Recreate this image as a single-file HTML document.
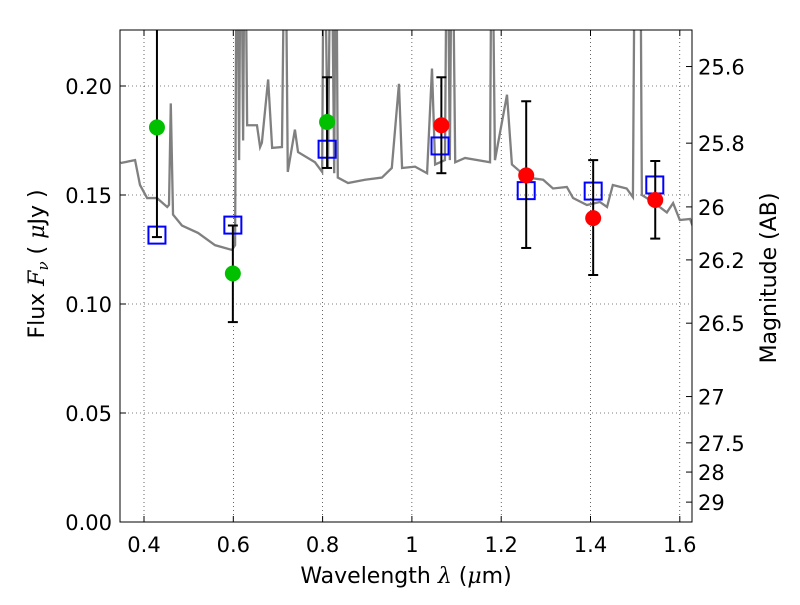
<!DOCTYPE html>
<html><head><meta charset="utf-8"><style>
body{margin:0;background:#fff;}
svg text{font-family:"DejaVu Sans","Liberation Sans",sans-serif;}
</style></head><body>
<svg id="c" width="800" height="600" xmlns="http://www.w3.org/2000/svg"></svg>
<script>
const specLam=[0.348,0.380,0.391,0.407,0.429,0.452,0.456,0.460,0.465,0.485,0.521,0.559,0.597,0.604,0.608,0.613,0.617,0.622,0.626,0.631,0.653,0.660,0.664,0.678,0.687,0.709,0.716,0.722,0.738,0.745,0.783,0.799,0.803,0.812,0.819,0.826,0.830,0.834,0.857,0.895,0.933,0.955,0.971,0.978,1.007,1.034,1.045,1.052,1.074,1.079,1.085,1.090,1.097,1.119,1.175,1.179,1.186,1.213,1.224,1.258,1.294,1.316,1.347,1.361,1.392,1.421,1.437,1.450,1.481,1.495,1.500,1.511,1.515,1.540,1.571,1.585,1.600,1.623,1.630];
const specFlux=[0.1647,0.166,0.1546,0.1486,0.1486,0.1445,0.1455,0.192,0.141,0.136,0.1326,0.127,0.1248,0.127,0.30,0.166,0.30,0.175,0.30,0.182,0.182,0.172,0.174,0.203,0.1716,0.172,0.30,0.1606,0.180,0.1697,0.165,0.1606,0.30,0.162,0.30,0.160,0.30,0.158,0.1555,0.157,0.158,0.1624,0.201,0.1624,0.163,0.160,0.208,0.164,0.166,0.30,0.166,0.30,0.165,0.167,0.165,0.30,0.166,0.196,0.164,0.158,0.157,0.153,0.1537,0.1486,0.1454,0.1468,0.1445,0.1546,0.153,0.149,0.30,0.30,0.150,0.1468,0.142,0.1463,0.1385,0.139,0.135];
const greenLam=[0.429,0.599,0.810];
const greenFlux=[0.181,0.114,0.1835];
const greenErrLo=[0.1307,0.0917,0.1624];
const greenErrHi=[0.30,0.136,0.204];
const redLam=[1.066,1.256,1.406,1.545];
const redFlux=[0.182,0.159,0.1394,0.1477];
const redErrLo=[0.160,0.1257,0.1133,0.130];
const redErrHi=[0.204,0.193,0.166,0.1656];
const modelLam=[0.429,0.599,0.810,1.063,1.256,1.406,1.544];
const modelFlux=[0.1316,0.1362,0.171,0.1725,0.152,0.1518,0.1546];
const xTicks=[0.4,0.6,0.8,1.0,1.2,1.4,1.6];
const xTickLabels=["0.4","0.6","0.8","1","1.2","1.4","1.6"];
const yTicks=[0,0.05,0.10,0.15,0.20];
const yTickLabels=["0.00","0.05","0.10","0.15","0.20"];
const magTicks=[25.6,25.8,26,26.2,26.5,27,27.5,28,29];
const magTickLabels=["25.6","25.8","26","26.2","26.5","27","27.5","28","29"];

const L=120,R=692,T=30,B=522;
const X=l=>144+(l-0.4)*446.5;
const Y=f=>522-f*2180;
const svg=document.getElementById('c');
const NS="http://www.w3.org/2000/svg";
function mk(tag,attrs,parent){const e=document.createElementNS(NS,tag);for(const k in attrs)e.setAttribute(k,attrs[k]);(parent||svg).appendChild(e);return e;}
const defs=mk('defs',{});
const cp=mk('clipPath',{id:'clip'},defs);
mk('rect',{x:L,y:T,width:R-L,height:B-T},cp);

const grid=mk('g',{stroke:'#000','stroke-width':0.6,'stroke-dasharray':'1,3'});


xTicks.forEach(t=>mk('line',{x1:X(t),x2:X(t),y1:T,y2:B},grid));
yTicks.forEach(t=>mk('line',{x1:L,x2:R,y1:Y(t),y2:Y(t)},grid));

const plot=mk('g',{'clip-path':'url(#clip)'});
const sp=mk('polyline',{points:specLam.map((l,i)=>X(l)+','+Y(specFlux[i])).join(' '),fill:'none',stroke:'#808080','stroke-width':2.3},plot);



function errs(lams,lo,hi,name){
  lams.forEach((l,i)=>{
    const g=mk('g',{stroke:'#000','stroke-width':2},plot);
    
    
    mk('line',{x1:X(l),x2:X(l),y1:Y(lo[i]),y2:Y(hi[i])},g);
    mk('line',{x1:X(l)-5,x2:X(l)+5,y1:Y(lo[i]),y2:Y(lo[i])},g);
    mk('line',{x1:X(l)-5,x2:X(l)+5,y1:Y(hi[i]),y2:Y(hi[i])},g);
  });
}
modelLam.forEach((l,i)=>{
  const r=mk('rect',{x:X(l)-8.5,y:Y(modelFlux[i])-8.5,width:17,height:17,fill:'none',stroke:'#0000ff','stroke-width':2},plot);
  
  
});
errs(greenLam,greenErrLo,greenErrHi,'green');
errs(redLam,redErrLo,redErrHi,'red');
greenLam.forEach((l,i)=>{
  const c=mk('circle',{cx:X(l),cy:Y(greenFlux[i]),r:8,fill:'#00c000'},plot);
  
  
});
redLam.forEach((l,i)=>{
  const c=mk('circle',{cx:X(l),cy:Y(redFlux[i]),r:8,fill:'#ff0000'},plot);
  
  
});

const fr=mk('rect',{x:L,y:T,width:R-L,height:B-T,fill:'none',stroke:'#000','stroke-width':1});



xTicks.forEach((t,i)=>{
  mk('line',{x1:X(t),x2:X(t),y1:B,y2:B-6,stroke:'#000'});
  mk('line',{x1:X(t),x2:X(t),y1:T,y2:T+6,stroke:'#000'});
  const tx=mk('text',{x:X(t),y:552,'font-size':21,'text-anchor':'middle'});
  tx.textContent=xTickLabels[i];
  
  
});
yTicks.forEach((t,i)=>{
  mk('line',{x1:L,x2:L+6,y1:Y(t),y2:Y(t),stroke:'#000'});
  const tx=mk('text',{x:112,y:Y(t)+8,'font-size':21,'text-anchor':'end'});
  tx.textContent=yTickLabels[i];
  
  
});
magTicks.forEach((m,i)=>{
  const y=Y(Math.pow(10,(23.9-m)/2.5));
  mk('line',{x1:R,x2:R-6,y1:y,y2:y,stroke:'#000'});
  const tx=mk('text',{x:698,y:y+8,'font-size':21});
  tx.textContent=magTickLabels[i];
  
  
});
const xl=mk('text',{x:406,y:583,'font-size':22,'text-anchor':'middle'});
xl.innerHTML='Wavelength  <tspan font-style="italic" font-family="DejaVu Serif, serif">λ</tspan> (<tspan font-style="italic" font-family="DejaVu Serif, serif">μ</tspan>m)';


const yl=mk('text',{x:0,y:0,'font-size':22,'text-anchor':'middle',transform:'translate(44,264) rotate(-90)'});
yl.innerHTML='Flux  <tspan font-style="italic" font-family="DejaVu Serif, serif">F<tspan font-size="15" dy="4">ν</tspan></tspan><tspan dy="-4">  ( </tspan><tspan font-style="italic" font-family="DejaVu Serif, serif">μ</tspan>Jy )';


const ml=mk('text',{x:0,y:0,'font-size':22,'text-anchor':'middle',transform:'translate(776,278) rotate(-90)'});
ml.textContent='Magnitude (AB)';


</script>
</body></html>
